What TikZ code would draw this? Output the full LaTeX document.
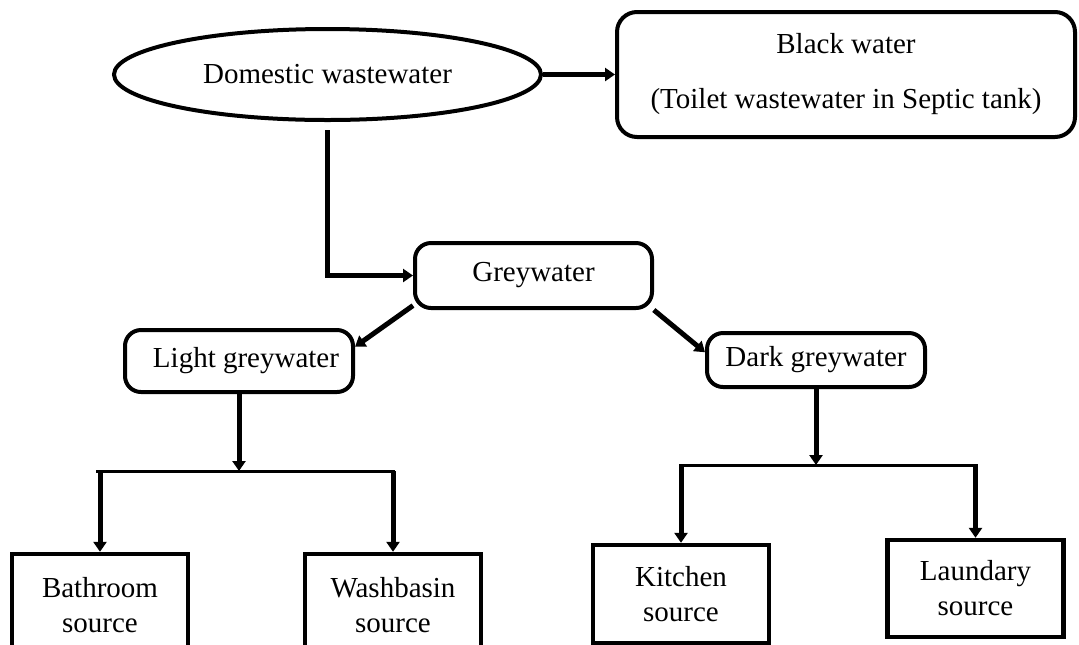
\documentclass[tikz,border=0pt]{standalone}
\usepackage{fontspec}
\setmainfont{Liberation Serif}
\usetikzlibrary{shapes.geometric, arrows.meta}

\begin{document}
\begin{tikzpicture}[
    x=0.5pt, y=-0.5pt,
    font=\fontsize{14.5}{17.5}\selectfont,
    every node/.style={align=center},
    roundbox/.style={draw, line width=2pt, rounded corners=8pt, inner sep=0pt},
    srcbox/.style={draw, line width=2.2pt, inner sep=0pt, minimum width=88pt},
    flow/.style={line width=2.5pt, -{Triangle[length=5pt, width=6.5pt]}},
    bar/.style={line width=1.5pt},
  ]
  \clip (0,0) rectangle (1079,644);

  % Sources of wastewater
  \node[ellipse, draw, line width=2pt, minimum width=213.5pt, minimum height=45.5pt, inner sep=0pt]
    (dom) at (327.5,74.5) {Domestic wastewater};
  \node[roundbox, rounded corners=10pt, minimum width=229pt, minimum height=62.5pt]
    (black) at (846,74.5) {Black water\\[10pt](Toilet wastewater in Septic tank)};
  \node[roundbox, minimum width=118.5pt, minimum height=32.5pt]
    (grey) at (533.5,275.5) {Greywater};

  % Kinds of greywater
  \node[roundbox, minimum width=114pt, minimum height=31pt]
    (light) at (239,361) {\hspace{7pt}Light greywater};
  \node[roundbox, minimum width=109pt, minimum height=27pt]
    (dark) at (816,360) {Dark greywater};

  % Sources
  \node[srcbox, minimum height=51pt] (bath) at (100,605) {Bathroom\\source};
  \node[srcbox, minimum height=51pt] (wash) at (393,605) {Washbasin\\source};
  \node[srcbox, minimum height=49pt] (kitchen) at (681,594) {Kitchen\\source};
  \node[srcbox, minimum height=48.5pt] (laundry) at (975.5,588.5) {Laundary\\source};

  % Junctions
  \coordinate (lbar) at (242,471);
  \coordinate (dbar) at (818,465);

  % Connectors
  \draw[flow] (dom) -- (black);
  \draw[flow, shorten <=4pt] (dom.south) |- (grey);
  \draw[flow] (grey.-166) -- (light.7);
  \draw[flow] (grey.-16) -- (dark.176);

  \draw[flow] (light) -- (light |- lbar);
  \draw[bar] ([xshift=-2pt]bath.north |- lbar) -- ([xshift=1pt]wash.north |- lbar);
  \draw[flow] (bath.north |- lbar) -- (bath);
  \draw[flow] (wash.north |- lbar) -- (wash);

  \draw[flow] (dark) -- (dark |- dbar);
  \draw[bar] ([xshift=-1pt]kitchen.north |- dbar) -- ([xshift=1pt]laundry.north |- dbar);
  \draw[flow] (kitchen.north |- dbar) -- (kitchen);
  \draw[flow] (laundry.north |- dbar) -- (laundry);
\end{tikzpicture}
\end{document}
